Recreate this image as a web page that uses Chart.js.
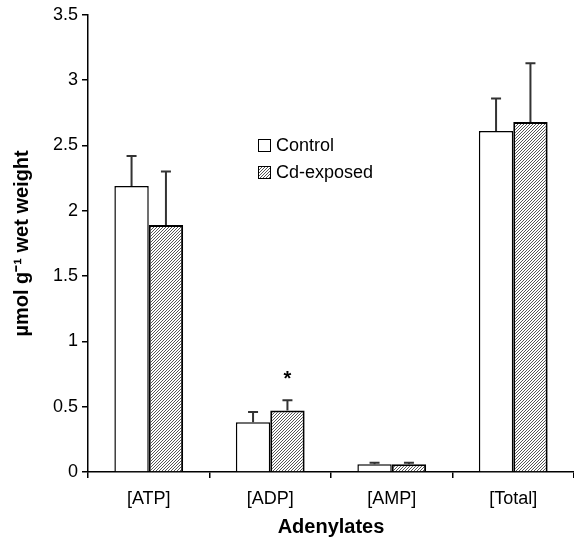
<!DOCTYPE html>
<html>
<head>
<meta charset="utf-8">
<script src="https://cdn.jsdelivr.net/npm/chart.js@4"></script>
<style>
  html, body { margin: 0; padding: 0; background: #fff; }
  #wrap { width: 574px; height: 543px; }
</style>
</head>
<body>
<div id="wrap"><canvas id="chart" width="574" height="543"></canvas></div>
<script>
// values
const categories = ['[ATP]', '[ADP]', '[AMP]', '[Total]'];
const controlVals = [2.19, 0.38, 0.06, 2.61];
const controlErr = [0.23, 0.08, 0.01, 0.25];
const cdVals = [1.89, 0.47, 0.06, 2.68];
const cdErr = [0.41, 0.08, 0.01, 0.45];
const yTicks = [0, 0.5, 1, 1.5, 2, 2.5, 3, 3.5];
const starred = [[1, 1]]; // [dataset, index]

const font = "'Liberation Sans', Arial, sans-serif";

function hatch(){
    const n = 3;
    const c = document.createElement('canvas');
    c.width = n; c.height = n;
    const g = c.getContext('2d');
    g.fillStyle = '#fff';
    g.fillRect(0, 0, n, n);
    g.strokeStyle = '#444';
    g.lineWidth = 0.9;
    g.beginPath();
    g.moveTo(-1, n + 1); g.lineTo(n + 1, -1);
    g.moveTo(-1, 1); g.lineTo(1, -1);
    g.moveTo(n - 1, n + 1); g.lineTo(n + 1, n - 1);
    g.stroke();
    return g.createPattern(c, 'repeat');
}
const hatchFill = hatch();

const errorBars = {
    id: 'errorBars',
    afterDatasetsDraw(chart){
        const ctx = chart.ctx;
        const y = chart.scales.y;
        const errs = [controlErr, cdErr];
        ctx.save();
        ctx.strokeStyle = '#333';
        ctx.lineWidth = 2;
        chart.data.datasets.forEach((ds, di) => {
            chart.getDatasetMeta(di).data.forEach((bar, i) => {
                const top = y.getPixelForValue(ds.data[i] + errs[di][i]);
                ctx.beginPath();
                ctx.moveTo(bar.x, bar.y);
                ctx.lineTo(bar.x, top);
                ctx.moveTo(bar.x - 5, top);
                ctx.lineTo(bar.x + 5, top);
                ctx.stroke();
            });
        });
        // significance marks
        ctx.fillStyle = '#000';
        ctx.font = 'bold 20px ' + font;
        ctx.textAlign = 'center';
        ctx.textBaseline = 'middle';
        starred.forEach(([di, i]) => {
            const bar = chart.getDatasetMeta(di).data[i];
            const v = chart.data.datasets[di].data[i] + errs[di][i];
            ctx.fillText('*', bar.x, y.getPixelForValue(v) - 21);
        });
        // legend
        ctx.font = '18px ' + font;
        ctx.textAlign = 'left';
        const lx = 258, ly = [145, 172];
        chart.data.datasets.forEach((ds, di) => {
            ctx.fillStyle = ds.backgroundColor;
            ctx.fillRect(lx, ly[di] - 6, 13, 13);
            ctx.strokeStyle = '#000';
            ctx.lineWidth = 1;
            ctx.strokeRect(lx + 0.5, ly[di] - 5.5, 12, 12);
            ctx.fillStyle = '#000';
            ctx.fillText(ds.label, lx + 18, ly[di] + 1);
        });
        ctx.restore();
    }
};

const ctx = document.getElementById('chart').getContext('2d');
const chart = new Chart(ctx, {
    type: 'bar',
    data: {
        labels: categories,
        datasets: [{
            label: 'Control',
            data: controlVals,
            backgroundColor: '#fff',
            borderColor: '#000',
            borderWidth: 1.5
        }, {
            label: 'Cd-exposed',
            data: cdVals,
            backgroundColor: hatchFill,
            borderColor: '#000',
            borderWidth: 2
        }]
    },
    options: {
        responsive: false,
        animation: false,
        layout: { padding: { top: 8, right: 0, left: 6, bottom: 0 } },
        categoryPercentage: 0.566,
        barPercentage: 1,
        plugins: {
            legend: { display: false },
            tooltip: { enabled: false }
        },
        scales: {
            x: {
                grid: { drawOnChartArea: false, color: '#000', tickLength: 6, lineWidth: 1.5 },
                border: { color: '#000', width: 1.5 },
                ticks: { color: '#000', font: { family: font, size: 18 }, padding: 10 },
                title: { display: true, text: 'Adenylates', color: '#000', font: { family: font, size: 20, weight: 'bold' }, padding: { top: 2 } },
                afterFit: s => { s.height = 71; }
            },
            y: {
                min: 0, max: 3.5,
                afterBuildTicks: s => { s.ticks = yTicks.map(v => ({ value: v })); },
                grid: { drawOnChartArea: false, color: '#000', tickLength: 6, lineWidth: 1.5 },
                border: { color: '#000', width: 1.5 },
                ticks: { color: '#000', font: { family: font, size: 18 }, padding: 4, callback: v => String(v) },
                title: { display: true, text: 'µmol g⁻¹ wet weight', color: '#000', font: { family: font, size: 20, weight: 'bold' }, padding: { bottom: 4 } },
                afterFit: s => { s.width = 82; }
            }
        }
    },
    plugins: [errorBars]
});
</script>
</body>
</html>
